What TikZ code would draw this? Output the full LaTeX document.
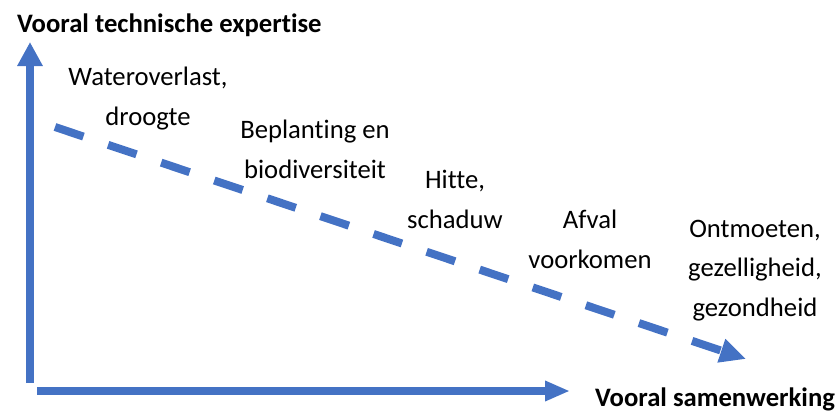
\documentclass[tikz,border=0pt]{standalone}
\usepackage{fontspec}
\setmainfont{Carlito}[Ligatures=NoCommon]
\usetikzlibrary{arrows.meta}
\definecolor{axisblue}{HTML}{4472C4}
\tikzset{
  axis/.style={draw=axisblue, line width=8.5pt},
  trend/.style={draw=axisblue, line width=8pt, dash pattern=on 30pt off 26pt},
  lbl/.style={font=\fontsize{26.67pt}{39.5pt}\selectfont, align=center, inner sep=0pt, anchor=base},
  ttl/.style={font=\fontsize{26.67pt}{32pt}\selectfont\bfseries, inner sep=0pt, anchor=base west}
}
\begin{document}
\begin{tikzpicture}[x=1pt,y=-1pt]
\useasboundingbox (0,0) rectangle (836,410);
% axes
\coordinate (vbot) at (30,383);
\coordinate (vtop) at (30,42);
\coordinate (hleft) at (37,391);
\coordinate (hright) at (570,391);
\draw[axis, -{Triangle[length=24pt,width=24pt]}] (vbot) -- (vtop);
\draw[axis, -{Triangle[length=25pt,width=19pt]}] (hleft) -- (hright);
% trend line
\coordinate (tstart) at (55,127);
\coordinate (tend) at (746,359);
\draw[trend, -{Triangle[length=26pt,width=23pt]}] (tstart) -- (tend);
% titles
\node[ttl] (ytitle) at (17,32) {Vooral technische expertise};
\node[ttl] (xtitle) at (595,406) {Vooral samenwerking};
% labels (anchor = baseline of the last line)
\node[lbl] (water) at (148,125) {Wateroverlast,\\droogte};
\node[lbl] (plant) at (315,178) {Beplanting en\\biodiversiteit};
\node[lbl] (hitte) at (455,228) {Hitte,\\schaduw};
\node[lbl] (afval) at (590,268) {Afval\\voorkomen};
\node[lbl] (ontm) at (755,316) {Ontmoeten,\\gezelligheid,\\gezondheid};
\end{tikzpicture}
\end{document}
